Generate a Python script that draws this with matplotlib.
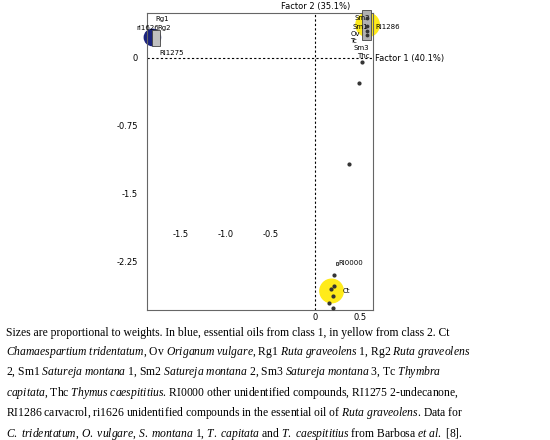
import matplotlib.pyplot as plt
from matplotlib.patches import Rectangle, Ellipse

# big markers (circles = weights, grey boxes)
circ_x = [-1.81, 0.58, 0.18]
circ_y = [0.23, 0.37, -2.57]
circ_r = [0.09, 0.13, 0.13]
circ_c = ["#1a237e", "#ffeb1a", "#ffeb1a"]
# small points
pt_x = [0.52, 0.49, 0.37, 0.21, 0.15, 0.20, 0.21, 0.17, 0.20]
pt_y = [-0.04, -0.27, -1.17, -2.39, -2.70, -2.76, -2.52, -2.55, -2.62]
labels = [("Rg1", -1.78, 0.43), ("Rg2", -1.75, 0.33), ("ri1626", -1.99, 0.33),
          ("RI1275", -1.73, 0.06), ("Sm2", 0.44, 0.44), ("Sm1", 0.41, 0.35),
          ("Ov", 0.39, 0.27), ("Tc", 0.39, 0.19), ("Sm3", 0.42, 0.11),
          ("Thc", 0.46, 0.02), ("RI1286", 0.67, 0.35), ("RI0000", 0.26, -2.26),
          ("Ct", 0.30, -2.57)]

fig = plt.figure(figsize=(5.5, 4.4), dpi=100)
W, H = 550, 440
ax = fig.add_axes([147 / W, 1 - 310 / H, 226 / W, 297 / H])
ax.set_xlim(-1.87, 0.64)
ax.set_ylim(-2.78, 0.5)
ax.set_xticks([]); ax.set_yticks([])
for s in ax.spines.values():
    s.set_color("#666666")

ax.axhline(0, color="black", ls=(0, (2, 2)), lw=0.8)
ax.axvline(0, color="black", ls=(0, (2, 2)), lw=0.8)

for x, y, r, c in zip(circ_x, circ_y, circ_r, circ_c):
    ax.add_patch(Ellipse((x, y), 2 * r, 2 * r, color=c, zorder=2, clip_on=False))
ax.add_patch(Rectangle((-1.82, 0.14), 0.09, 0.17, fc="#c0c0c0", ec="#444444", lw=0.6, zorder=3, clip_on=False))
ax.add_patch(Rectangle((0.52, 0.2), 0.1, 0.33, fc="#b0b0b0", ec="#444444", lw=0.6, zorder=3, clip_on=False))
ax.add_patch(Rectangle((0.225, -2.28), 0.03, 0.035, fc="#dddddd", ec="#333333", lw=0.6, zorder=3))
ax.scatter(pt_x, pt_y, s=4, color="#333333", zorder=4)
ax.scatter([0.57, 0.57, 0.57, 0.57], [0.44, 0.36, 0.3, 0.26], s=3, color="#333333", zorder=4)

for t, x, y in labels:
    ax.text(x, y, t, fontsize=5, ha="left", va="center", clip_on=False)

fs = 6
ax.text(0, 0.52, "Factor 2 (35.1%)", fontsize=fs, ha="center", va="bottom", clip_on=False)
ax.text(0.66, 0.0, "Factor 1 (40.1%)", fontsize=fs, ha="left", va="center", clip_on=False)
for v, t in [(0, "0"), (-0.75, "-0.75"), (-1.5, "-1.5"), (-2.25, "-2.25")]:
    ax.text(-1.97, v, t, fontsize=fs, ha="right", va="center", clip_on=False)
for v, t in [(-1.5, "-1.5"), (-1.0, "-1.0"), (-0.5, "-0.5")]:
    ax.text(v, -1.95, t, fontsize=fs, ha="center", va="center")
for v, t in [(0, "0"), (0.5, "0.5")]:
    ax.text(v, -2.81, t, fontsize=fs, ha="center", va="top", clip_on=False)

caption = ("Sizes are proportional to weights. In blue, essential oils from class 1, in yellow from class 2. Ct\n"
           r"$\it{Chamaespartium\ tridentatum}$, Ov $\it{Origanum\ vulgare}$, Rg1 $\it{Ruta\ graveolens}$ 1, Rg2 $\it{Ruta\ graveolens}$" "\n"
           r"2, Sm1 $\it{Satureja\ montana}$ 1, Sm2 $\it{Satureja\ montana}$ 2, Sm3 $\it{Satureja\ montana}$ 3, Tc $\it{Thymbra}$" "\n"
           r"$\it{capitata}$, Thc $\it{Thymus\ caespititius}$. RI0000 other unidentified compounds, RI1275 2-undecanone," "\n"
           r"RI1286 carvacrol, ri1626 unidentified compounds in the essential oil of $\it{Ruta\ graveolens}$. Data for" "\n"
           r"$\it{C.\ tridentatum}$, $\it{O.\ vulgare}$, $\it{S.\ montana}$ 1, $\it{T.\ capitata}$ and $\it{T.\ caespititius}$ from Barbosa $\it{et\ al.}$ [8].")
plt.rcParams["mathtext.fontset"] = "custom"
plt.rcParams["mathtext.it"] = "Liberation Serif:italic"
plt.rcParams["mathtext.rm"] = "Liberation Serif"
fig.text(6 / W, 1 - 327 / H, caption, fontsize=8.4, family="Liberation Serif",
         ha="left", va="top", linespacing=1.42)

fig.savefig("out.png", dpi=100)
